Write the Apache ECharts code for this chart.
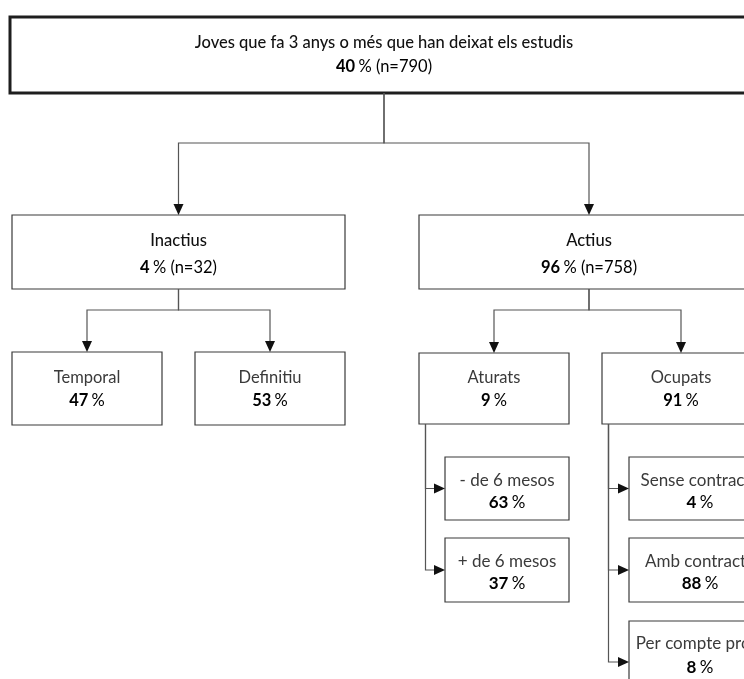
<!DOCTYPE html>
<html>
<head>
<meta charset="utf-8">
<script src="https://cdn.jsdelivr.net/npm/echarts@6/dist/echarts.min.js"></script>
<style>html,body{margin:0;padding:0;background:#fff;}#c{width:744px;height:679px;}</style>
</head>
<body>
<div id="c"></div>
<script>
// ---- data ----
const labels = ['Joves que fa 3 anys o més que han deixat els estudis', 'Inactius', 'Actius', 'Temporal', 'Definitiu', 'Aturats', 'Ocupats', '- de 6 mesos', '+ de 6 mesos', 'Sense contracte', 'Amb contracte', 'Per compte propi'];
const percents = [40, 4, 96, 47, 53, 9, 91, 63, 37, 4, 88, 8];
const counts = [790, 32, 758, null, null, null, null, null, null, null, null, null];
const parents = [-1, 0, 0, 1, 1, 2, 2, 5, 5, 6, 6, 6];

// ---- layout (pixel boxes: x, y, w, h) ----
const boxes = [
  [10, 17, 748, 76],
  [12, 215, 333, 74],
  [419, 215, 340, 74],
  [12, 352, 150, 73],
  [195, 352, 150, 73],
  [419, 353, 150, 71],
  [602, 353, 158, 71],
  [445, 457, 124, 63],
  [445, 538, 124, 64],
  [629, 457, 142, 63],
  [629, 538, 142, 64],
  [629, 621, 142, 82]
];
const linkKind = [null, 'down', 'down', 'down', 'down', 'down', 'down', 'side', 'side', 'side', 'side', 'side'];
const midY = {0: 143, 1: 310, 2: 310};
const textOffset = [38, 39, 39, 37, 37, 36, 36, 35, 35, 35, 35, 35];
const lineGap = [24, 27, 27, 23, 23, 23, 23, 22, 22, 22, 22, 24];

const FONT = 'Lato, "Open Sans", sans-serif';
const LINE = '#555';

function renderItem(params, api) {
  const i = params.dataIndex;
  const b = boxes[i];
  const p0 = api.coord([b[0], b[1]]);
  const p1 = api.coord([b[0] + b[2], b[1] + b[3]]);
  const x = p0[0], y = p0[1], w = p1[0] - p0[0], h = p1[1] - p0[1];
  const cx = x + w / 2;
  const children = [];
  const top = i === 0;
  const fs = i >= 7 ? 17 : 16.5;
  children.push({
    type: 'rect',
    shape: {x: x, y: y, width: w, height: h},
    style: {fill: '#fff', stroke: top ? '#1e1e1e' : '#3a3a3a', lineWidth: top ? 3 : 1.2}
  });
  const lvl1 = (i === 1 || i === 2 || i === 0);
  const nameStyle = lvl1 ? {fontWeight: 500, fill: '#111'} : {fontWeight: 400, fill: '#3a3a3a'};
  const cnt = counts[i] != null ? ' (n=' + counts[i] + ')' : '';
  const ty = y + textOffset[i];
  children.push({
    type: 'text',
    style: {
      x: cx, y: ty - lineGap[i] / 2,
      text: labels[i], align: 'center', verticalAlign: 'middle',
      font: (nameStyle.fontWeight) + ' ' + fs + 'px ' + FONT, fill: nameStyle.fill
    }
  });
  children.push({
    type: 'text',
    style: {
      x: cx, y: ty + lineGap[i] / 2,
      text: '{b|' + percents[i] + '} {r|%' + cnt + '}',
      align: 'center', verticalAlign: 'middle',
      rich: {
        b: {fontFamily: FONT, fontSize: fs, fontWeight: 'bold', color: '#111'},
        r: {fontFamily: FONT, fontSize: fs, fontWeight: 400, color: '#3a3a3a'}
      }
    }
  });
  // connectors
  const par = parents[i];
  if (par >= 0) {
    const pb = boxes[par];
    const pa = api.coord([pb[0], pb[1]]);
    const pz = api.coord([pb[0] + pb[2], pb[1] + pb[3]]);
    if (linkKind[i] === 'down') {
      const pcx = (pa[0] + pz[0]) / 2;
      const my = api.coord([0, midY[par]])[1];
      const ah = 11, aw = 5;
      children.push({type: 'polyline', shape: {points: [[pcx, pz[1]], [pcx, my], [cx, my], [cx, y - ah]]},
        style: {stroke: LINE, lineWidth: 1.2, fill: null}});
      children.push({type: 'polygon', shape: {points: [[cx - aw, y - ah], [cx + aw, y - ah], [cx, y]]},
        style: {fill: '#111'}});
    } else {
      const tx = pa[0] + 6.5;
      const cy = y + h / 2;
      const ah = 11, aw = 5;
      children.push({type: 'polyline', shape: {points: [[tx, pz[1]], [tx, cy], [x - ah, cy]]},
        style: {stroke: LINE, lineWidth: 1.2, fill: null}});
      children.push({type: 'polygon', shape: {points: [[x - ah, cy - aw], [x - ah, cy + aw], [x, cy]]},
        style: {fill: '#111'}});
    }
  }
  return {type: 'group', children: children};
}

const chart = echarts.init(document.getElementById('c'), null, {renderer: 'canvas'});
chart.setOption({
  animation: false,
  grid: {left: 0, right: 0, top: 0, bottom: 0},
  xAxis: {type: 'value', min: 0, max: 744, show: false},
  yAxis: {type: 'value', min: 0, max: 679, inverse: true, show: false},
  series: [{
    type: 'custom',
    renderItem: renderItem,
    clip: false,
    data: labels.map((l, i) => [boxes[i][0], boxes[i][1], percents[i]])
  }]
});
</script>
</body>
</html>
